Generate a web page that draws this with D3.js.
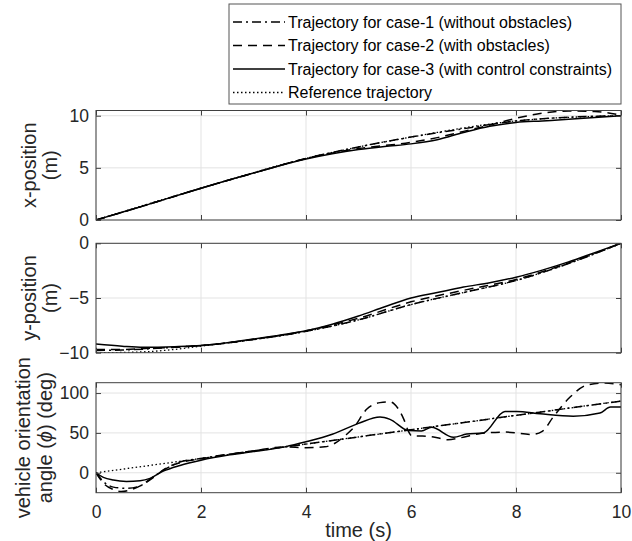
<!DOCTYPE html>
<html>
<head>
<meta charset="utf-8">
<script src="https://cdn.jsdelivr.net/npm/d3@7"></script>
<style>
body{margin:0;background:#fff;}
svg{display:block;font-family:"Liberation Sans",Arial,sans-serif;}
</style>
</head>
<body>
<div id="chart"></div>
<script>
(function(){

const width = 632;
const height = 541;
const left = 96, right = 621;

// x ticks (time, s)
const timeTicks = [0,2,4,6,8,10];

const legendLabels = [
"Trajectory for case-1 (without obstacles)",
"Trajectory for case-2 (with obstacles)",
"Trajectory for case-3 (with control constraints)",
"Reference trajectory"
];

// x-position (m)
const xCase1 = [[0,0],[1,1.5],[2,3.05],[3,4.5],[4,5.9],[5,7.0],[6,7.95],[7,8.75],[8,9.5],[9,9.85],[10,10]];
const xCase2 = [[0,0],[1,1.5],[2,3.05],[3,4.5],[4,5.9],[5,6.85],[6,7.45],[6.5,7.9],[7,8.5],[7.5,9.1],[8,9.75],[8.5,10.25],[9,10.45],[9.5,10.4],[10,10.05]];
const xCase3 = [[0,0],[1,1.5],[2,3.05],[3,4.5],[4,5.85],[4.5,6.35],[5,6.75],[5.5,7.05],[6,7.3],[6.5,7.7],[7,8.4],[7.5,9.0],[8,9.35],[8.5,9.5],[9,9.65],[9.5,9.82],[10,10]];
const xRef = [[0,0],[2,3.05],[4,5.9],[6,7.95],[8,9.5],[10,10]];

// y-position (m)
const yCase1 = [[0,-9.8],[0.5,-9.75],[1,-9.65],[1.5,-9.5],[2,-9.35],[3,-8.8],[4,-8.05],[5,-7.0],[6,-5.6],[7,-4.5],[8,-3.4],[9,-1.85],[10,0]];
const yCase2 = [[0,-9.7],[0.5,-9.7],[1,-9.6],[1.5,-9.5],[2,-9.35],[3,-8.78],[4,-8.0],[5,-6.85],[6,-5.35],[7,-4.3],[8,-3.3],[9,-1.8],[10,0]];
const yCase3 = [[0,-9.2],[0.5,-9.4],[0.9,-9.5],[1.5,-9.45],[2,-9.35],[2.5,-9.1],[3,-8.75],[3.5,-8.4],[4,-8.0],[4.5,-7.4],[5,-6.65],[5.5,-5.8],[6,-5.0],[6.5,-4.5],[7,-4.0],[7.5,-3.6],[8,-3.1],[8.5,-2.45],[9,-1.7],[9.5,-0.85],[10,0]];
const yRef = [[0,-10],[0.5,-9.98],[1,-9.9],[1.5,-9.7],[2,-9.4],[3,-8.8],[4,-8.05],[5,-7.0],[6,-5.6],[7,-4.5],[8,-3.4],[9,-1.85],[10,0]];

// vehicle orientation angle (deg)
const aCase1 = [[0,0],[0.14,-11],[0.33,-18],[0.58,-19.5],[0.84,-16.5],[1.03,-8],[1.28,3],[1.6,13.5],[2,18],[4,36],[6,54],[8,72],[10,90]];
const aCase2 = [[0,0],[0.17,-15],[0.33,-21],[0.48,-23.5],[0.65,-21.5],[0.9,-14.5],[1.09,-6],[1.35,6.5],[1.6,12.5],[2,17.5],[3,27.5],[3.6,32.5],[4,31.5],[4.36,32.5],[4.55,37],[4.77,48],[4.9,56],[5.16,80],[5.41,88],[5.6,89],[5.75,81],[5.87,66],[5.95,52],[6.02,46],[6.22,46],[6.5,44],[6.7,41.5],[6.95,44],[7.3,49],[7.8,51],[8.3,48],[8.5,52],[8.71,70],[9.03,95],[9.35,110],[9.65,112.5],[10,110.5]];
const aCase3 = [[0,0],[0.14,-5.8],[0.33,-9.2],[0.58,-10.8],[0.84,-10],[1.03,-7],[1.28,2],[1.6,9.2],[2,15.8],[2.55,22.5],[3,26.7],[3.6,32.5],[4,38.8],[4.5,48.3],[5,62],[5.41,70],[5.6,67],[5.95,53],[6.2,52.5],[6.39,57],[6.81,44.5],[7.06,48.5],[7.38,50],[7.79,77],[8.01,77],[8.46,74],[9.09,71],[9.6,75],[9.8,82.5],[10,82.5]];
const aRef = [[0,0],[10,90]];

const dashes = ["9,4,2,4","9,6",null,"1.5,2.5"];

const panels = [
{top:110.5,bottom:220,domain:[0,10.5],ticks:[0,5,10],label:["x-position","(m)"],lx:[36,57],series:[xCase1,xCase2,xCase3,xRef]},
{top:243.3,bottom:352.7,domain:[-10,0],ticks:[-10,-5,0],label:["y-position","(m)"],lx:[36,57],series:[yCase1,yCase2,yCase3,yRef]},
{top:382.7,bottom:492.7,domain:[-25,113],ticks:[0,50,100],label:["vehicle orientation","angle (ϕ) (deg)"],lx:[30,52],series:[aCase1,aCase2,aCase3,aRef]}
];

const svg = d3.select("#chart")
.append("svg")
.attr("width",width)
.attr("height",height);

const x = d3.scaleLinear().domain([0,10]).range([left,right]);

panels.forEach((p,i)=>{
const y = d3.scaleLinear().domain(p.domain).range([p.bottom,p.top]);
const g = svg.append("g");

g.append("clipPath").attr("id","clip"+i)
.append("rect").attr("x",left).attr("y",p.top).attr("width",right-left).attr("height",p.bottom-p.top);

// grid
g.selectAll(".vg").data(timeTicks).enter().append("line")
.attr("x1",d=>x(d)).attr("x2",d=>x(d)).attr("y1",p.top).attr("y2",p.bottom)
.attr("stroke","#e3e3e3").attr("stroke-width",1);
g.selectAll(".hg").data(p.ticks).enter().append("line")
.attr("x1",left).attr("x2",right).attr("y1",d=>y(d)).attr("y2",d=>y(d))
.attr("stroke","#e3e3e3").attr("stroke-width",1);

// curves
const line = d3.line().x(d=>x(d[0])).y(d=>y(d[1])).curve(d3.curveMonotoneX);
p.series.forEach((s,k)=>{
g.append("path")
.datum(s)
.attr("clip-path",`url(#clip${i})`)
.attr("d",line)
.attr("fill","none")
.attr("stroke","#000")
.attr("stroke-width",k==3?1.3:1.5)
.attr("stroke-dasharray",dashes[k]);
});

// axes
const last = i==panels.length-1;
const ax = d3.axisBottom(x).tickValues(timeTicks).tickSize(-5).tickPadding(13);
if(!last) ax.tickFormat("");
g.append("g").attr("transform",`translate(0,${p.bottom})`).call(ax);
g.append("g").attr("transform",`translate(0,${p.top})`)
.call(d3.axisTop(x).tickValues(timeTicks).tickSize(-5).tickFormat(""));
g.append("g").attr("transform",`translate(${left},0)`)
.call(d3.axisLeft(y).tickValues(p.ticks).tickSize(-5).tickPadding(7));
g.append("g").attr("transform",`translate(${right},0)`)
.call(d3.axisRight(y).tickValues(p.ticks).tickSize(-5).tickFormat(""));

g.selectAll(".domain").remove();
g.selectAll(".tick line").attr("stroke","#404040");
g.selectAll(".tick text").attr("font-size","17.5px").attr("fill","#262626")
.attr("font-family","Liberation Sans, Arial, sans-serif");

g.append("rect")
.attr("x",left).attr("y",p.top).attr("width",right-left).attr("height",p.bottom-p.top)
.attr("fill","none").attr("stroke","#404040").attr("stroke-width",1);

// y label
const cy = (p.top+p.bottom)/2;
p.label.forEach((t,j)=>{
const txt = g.append("text")
.attr("transform",`translate(${p.lx[j]},${cy}) rotate(-90)`)
.attr("text-anchor","middle")
.attr("font-size","20px")
.attr("fill","#262626");
if(t.includes("ϕ")){
const parts = t.split("ϕ");
txt.append("tspan").text(parts[0]);
txt.append("tspan").attr("font-style","italic").text("ϕ");
txt.append("tspan").text(parts[1]);
}else{
txt.text(t);
}
});
});

// x label
svg.append("text")
.attr("x",(left+right)/2)
.attr("y",537)
.attr("text-anchor","middle")
.attr("font-size","20px")
.attr("fill","#262626")
.text("time (s)");

// legend
const leg = svg.append("g");
leg.append("rect")
.attr("x",229).attr("y",4).attr("width",392).attr("height",100)
.attr("fill","#fff").attr("stroke","#555").attr("stroke-width",1);
legendLabels.forEach((t,k)=>{
const ly = 22+k*23.5;
leg.append("line")
.attr("x1",233).attr("x2",285).attr("y1",ly).attr("y2",ly)
.attr("stroke","#000").attr("stroke-width",k==3?1.3:1.5)
.attr("stroke-dasharray",dashes[k]);
leg.append("text")
.attr("x",288).attr("y",ly)
.attr("dy","0.35em")
.attr("font-size","16px")
.attr("fill","#000")
.text(t);
});

})();
</script>
</body>
</html>
